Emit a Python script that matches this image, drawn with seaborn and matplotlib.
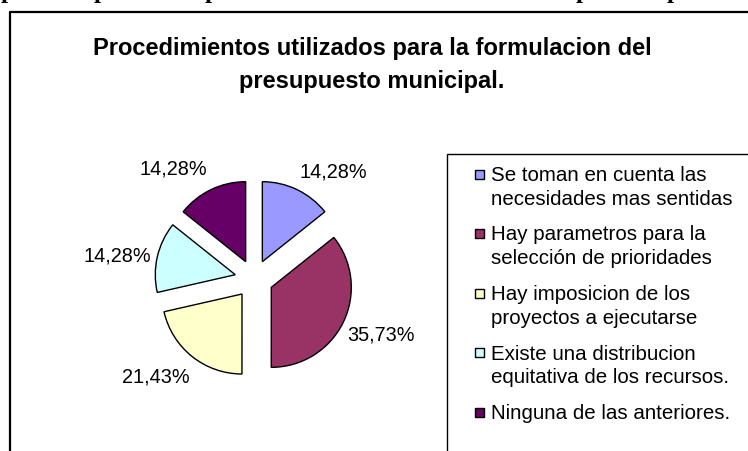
import matplotlib
matplotlib.use("Agg")
import numpy as np
import matplotlib.pyplot as plt
from matplotlib.patches import Rectangle
from matplotlib.lines import Line2D
import seaborn as sns

# datos del grafico
categorias = [
    "Se toman en cuenta las\nnecesidades mas sentidas",
    "Hay parametros para la\nselección de prioridades",
    "Hay imposicion de los\nproyectos a ejecutarse",
    "Existe una distribucion\nequitativa de los recursos.",
    "Ninguna de las anteriores.",
]
porcentajes = [14.28, 35.73, 21.43, 14.28, 14.28]
colores = ["#9999FF", "#993366", "#FFFFCC", "#CCFFFF", "#660066"]
titulo_1 = "Procedimientos utilizados para la formulacion del"
titulo_2 = "presupuesto municipal."

sns.set_theme(style="white")
plt.rcParams["font.family"] = ["Liberation Sans", "DejaVu Sans"]
plt.rcParams["text.color"] = "black"

W, H = 748, 451
fig = plt.figure(figsize=(W / 100, H / 100), dpi=100)
fig.patch.set_facecolor("white")

def fx(x):
    return x / W

def fy(y):
    return 1 - y / H

# restos del texto del documento cortado arriba
for xp in [1, 94, 205, 576, 667]:
    fig.text(fx(xp), fy(-1.5), "p", fontsize=18, fontweight="bold",
             family="Liberation Serif", ha="left", va="baseline")

# marco del grafico (cortado a la derecha y abajo)
fig.add_artist(Line2D([fx(10), fx(10), fx(760)], [fy(470), fy(12), fy(12)],
                      color="black", linewidth=1.6, transform=fig.transFigure))

# titulo
fig.text(fx(372), fy(48.5), titulo_1, ha="center", va="center", fontsize=17,
         fontweight="bold")
fig.text(fx(372), fy(81.5), titulo_2, ha="center", va="center", fontsize=17,
         fontweight="bold")

# pastel
cx, cy, r = 254, 279, 80
half = 150
ax = fig.add_axes([fx(cx - half), fy(cy + half), 2 * half / W, 2 * half / H])
wedges, textos, etiquetas = ax.pie(
    porcentajes, colors=colores, startangle=90, counterclock=False,
    explode=[0.24] * len(porcentajes), pctdistance=1.48,
    autopct=lambda p: "{:.2f}%".format(p).replace(".", ","),
    wedgeprops=dict(edgecolor="black", linewidth=1),
    textprops=dict(fontsize=14.3, color="black"))

# Excel corre un poco las etiquetas respecto al angulo medio
giro = [-12.6, 2.1, -7.4, 3.8, 12.3]
dist = [1.43, 1.50, 1.49, 1.49, 1.47]
for w, t, g, d in zip(wedges, etiquetas, giro, dist):
    ang = np.deg2rad((w.theta1 + w.theta2) / 2 + g)
    x0, y0 = w.center
    t.set_position((x0 + d * np.cos(ang), y0 + d * np.sin(ang)))

ax.set_xlim(-half / r, half / r)
ax.set_ylim(-half / r, half / r)
ax.set_aspect("equal")
ax.axis("off")

# leyenda
fig.add_artist(Rectangle((fx(447), fy(470)), fx(330), fy(154) - fy(470),
                         facecolor="none", edgecolor="black", linewidth=1,
                         transform=fig.transFigure))
for i, (cat, col) in enumerate(zip(categorias, colores)):
    yy = 174 + 59.5 * i
    fig.add_artist(Rectangle((fx(475), fy(yy + 4.5)), fx(9), fy(yy - 4.5) - fy(yy + 4.5),
                             facecolor=col, edgecolor="black", linewidth=1,
                             transform=fig.transFigure))
    fig.text(fx(491), fy(yy - 8), cat, ha="left", va="top", fontsize=14.8,
             linespacing=1.33)

fig.savefig("out.png", dpi=100)
